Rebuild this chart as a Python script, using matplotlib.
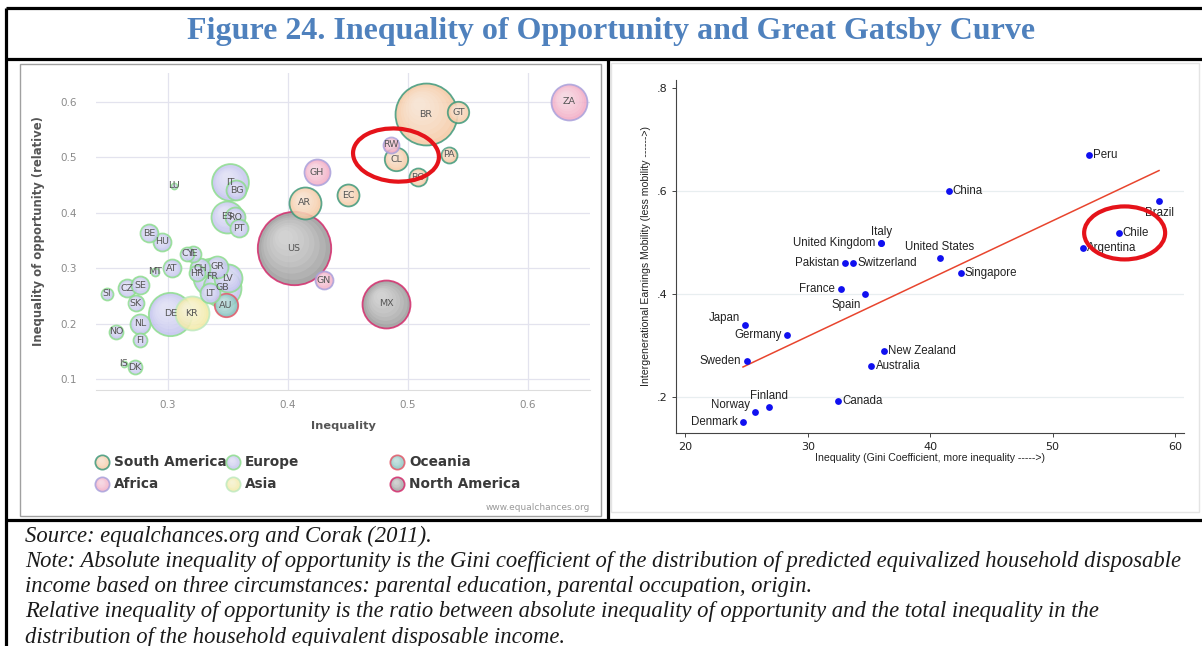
import numpy as np
import matplotlib
matplotlib.use("Agg")
import matplotlib.pyplot as plt
from matplotlib.patches import Rectangle, Ellipse
from matplotlib.lines import Line2D
from matplotlib.transforms import ScaledTranslation
from matplotlib.colors import to_rgb

# ---- left panel: inequality of opportunity (equalchances.org) ----
codes = ["BR", "GT", "PA", "CL", "BO", "EC", "AR", "ZA", "RW", "GH", "GN", "US", "MX",
         "AU", "KR", "IT", "BG", "ES", "RO", "PT", "LU", "BE", "HU", "CY", "IE", "AT",
         "MT", "CH", "GR", "HR", "FR", "LV", "GB", "LT", "SE", "CZ", "SI", "SK", "DE",
         "NL", "NO", "FI", "IS", "DK"]
ineq = [0.515, 0.542, 0.534, 0.490, 0.508, 0.450, 0.414, 0.634, 0.486, 0.424, 0.430,
        0.405, 0.482, 0.348, 0.320, 0.352, 0.357, 0.349, 0.356, 0.359, 0.305, 0.284,
        0.295, 0.316, 0.321, 0.303, 0.289, 0.327, 0.341, 0.324, 0.337, 0.350, 0.345,
        0.335, 0.277, 0.266, 0.249, 0.273, 0.302, 0.277, 0.257, 0.277, 0.263, 0.2725]
iop_rel = [0.578, 0.581, 0.505, 0.497, 0.464, 0.432, 0.418, 0.600, 0.523, 0.473, 0.279,
           0.336, 0.236, 0.234, 0.219, 0.455, 0.441, 0.393, 0.392, 0.372, 0.449, 0.363,
           0.348, 0.326, 0.326, 0.300, 0.294, 0.300, 0.303, 0.291, 0.285, 0.282, 0.265,
           0.255, 0.270, 0.264, 0.254, 0.237, 0.218, 0.200, 0.186, 0.171, 0.128, 0.122]
# relative bubble weight (population-like)
weight = [960, 115, 64, 137, 81, 121, 256, 324, 64, 169, 81, 1350, 576, 137, 289, 340,
          100, 256, 100, 81, 9, 81, 81, 49, 64, 81, 16, 100, 121, 64, 361, 196, 361, 100,
          81, 81, 36, 64, 470, 100, 49, 49, 9, 49]
region = ["SA", "SA", "SA", "SA", "SA", "SA", "SA", "AF", "AF", "AF", "AF", "NA", "NA",
          "OC", "AS"] + ["EU"] * 29

regions = ["SA", "EU", "OC", "AF", "AS", "NA"]
region_names = ["South America", "Europe", "Oceania", "Africa", "Asia", "North America"]

# ---- right panel: Great Gatsby Curve (Corak 2011) ----
countries = ["Peru", "China", "Brazil", "Chile", "Argentina", "Italy", "United Kingdom",
             "United States", "Pakistan", "Switzerland", "Singapore", "France", "Spain",
             "Japan", "Germany", "New Zealand", "Australia", "Sweden", "Canada",
             "Finland", "Norway", "Denmark"]
gini = [53.0, 41.5, 58.7, 55.4, 52.5, 36.0, 36.0, 40.8, 33.0, 33.7, 42.5, 32.7, 34.7,
        24.9, 28.3, 36.2, 35.2, 25.0, 32.5, 26.8, 25.7, 24.7]
iem = [0.670, 0.600, 0.581, 0.519, 0.490, 0.500, 0.500, 0.470, 0.460, 0.460, 0.441,
       0.410, 0.400, 0.341, 0.321, 0.290, 0.261, 0.270, 0.192, 0.181, 0.171, 0.151]

W, H = 1202, 646
fig = plt.figure(figsize=(W / 100, H / 100), dpi=100)

# background axes in pixel units for frame, title, legend and notes
bg = fig.add_axes([0, 0, 1, 1])
bg.set_xlim(0, W)
bg.set_ylim(H, 0)
bg.axis("off")

bg.add_patch(Rectangle((20, 64), 581, 452, facecolor="white", edgecolor="#a0a0a0", lw=1))
bg.add_patch(Rectangle((611, 63), 588, 449, facecolor="white", edgecolor="#e4e4e4", lw=1))

lw_frame = 2.3
for (x0, y0, x1, y1) in [(6, 8, W, 8), (6, 58.5, W, 58.5), (6, 520, W, 520),
                         (6, 8, 6, H), (607.5, 58.5, 607.5, 520)]:
    bg.add_line(Line2D([x0, x1], [y0, y1], color="black", lw=lw_frame, solid_capstyle="butt"))

bg.text(611, 32, "Figure 24. Inequality of Opportunity and Great Gatsby Curve",
        ha="center", va="center", fontsize=23, fontweight="bold",
        family="Liberation Serif", color="#4f81bd")

notes = ["Source: equalchances.org and Corak (2011).",
         "Note: Absolute inequality of opportunity is the Gini coefficient of the distribution of predicted equivalized household disposable",
         "income based on three circumstances: parental education, parental occupation, origin.",
         "Relative inequality of opportunity is the ratio between absolute inequality of opportunity and the total inequality in the",
         "distribution of the household equivalent disposable income."]
for i, line in enumerate(notes):
    bg.text(25, 536 + i * 25.3, line, ha="left", va="center", fontsize=16.3,
            style="italic", family="Liberation Serif", color="#1a1a1a")

fill = {"SA": "#f5c8a2", "EU": "#c2c2ee", "OC": "#80c0bc", "AF": "#f1a9c4",
        "AS": "#f2e9a2", "NA": "#9a9a9a"}
edge = {"SA": "#3f9a7c", "EU": "#8ede8e", "OC": "#e35868", "AF": "#a9a2dc",
        "AS": "#bfeabf", "NA": "#d42c6c"}


def lighter(c, t):
    r = np.array(to_rgb(c))
    return tuple(r + (1 - r) * t)


def bubble(ax, x, y, s, reg, z):
    ax.scatter(x, y, s=s, c=[fill[reg]], edgecolors=edge[reg], linewidths=1.3,
               alpha=0.85, zorder=z)
    r = np.sqrt(s) / 2.0
    # soft highlight toward the upper left
    for f in np.linspace(0.88, 0.2, 7):
        shift = ScaledTranslation(-(1 - f) * r * 0.3 / 72, (1 - f) * r * 0.4 / 72,
                                  fig.dpi_scale_trans)
        ax.scatter(x, y, s=s * f * f, c=[lighter(fill[reg], 0.75)], linewidths=0,
                   alpha=0.16, zorder=z + 0.01, transform=ax.transData + shift)


# legend of left panel
leg_x = [102, 233, 397]
leg_y = [462, 484]
for k, (reg, name) in enumerate(zip(regions, region_names)):
    lx = leg_x[k % 3]
    ly = leg_y[k // 3]
    bubble(bg, lx, ly, 105, reg, 3)
    bg.text(lx + 12, ly, name, ha="left", va="center", fontsize=9.8,
            fontweight="bold", color="#3a3a3a")
bg.text(590, 507, "www.equalchances.org", ha="right", va="center", fontsize=6.5,
        color="#9a9a9a")

# ---- left axes ----
ax1 = fig.add_axes([96 / W, 1 - 390 / H, 494 / W, 317 / H])
ax1.set_facecolor("none")
ax1.set_xlim(0.240, 0.6517)
ax1.set_ylim(0.081, 0.652)
ax1.set_xticks([0.3, 0.4, 0.5, 0.6])
ax1.set_yticks([0.1, 0.2, 0.3, 0.4, 0.5, 0.6])
ax1.grid(True, color="#e3e3ee", lw=0.9)
ax1.set_axisbelow(True)
for sp in ["top", "right", "left"]:
    ax1.spines[sp].set_visible(False)
ax1.spines["bottom"].set_color("#dddddd")
ax1.tick_params(length=0, labelsize=7.5, labelcolor="#8a8a8a")
ax1.tick_params(axis="y", pad=14)
ax1.tick_params(axis="x", pad=7)
ax1.set_xlabel("Inequality", fontsize=8.2, color="#555555", fontweight="bold", labelpad=8)
ax1.set_ylabel("Inequality of opportunity (relative)", fontsize=8.4, color="#555555",
               fontweight="bold", labelpad=11)

order = np.argsort(weight)[::-1]
for z, i in enumerate(order):
    bubble(ax1, ineq[i], iop_rel[i], 2.07 * weight[i], region[i], 2 + z * 0.1)
for i, c in enumerate(codes):
    ax1.text(ineq[i], iop_rel[i], c, ha="center", va="center", fontsize=6.8,
             color="#555555", zorder=20)

# red highlight around Chile (left)
ci = codes.index("CL")
tr = fig.dpi_scale_trans + ScaledTranslation(ineq[ci], iop_rel[ci], ax1.transData)
ax1.add_patch(Ellipse((0.0, 0.04), 0.86, 0.53, angle=-4, transform=tr, fill=False,
                      edgecolor="#e5131a", lw=3.0, zorder=30, clip_on=False))

# ---- right axes ----
ax2 = fig.add_axes([676.2 / W, 1 - 432.7 / H, 507.9 / W, 352.7 / H])
ax2.set_facecolor("none")
ax2.set_xlim(19.24, 60.75)
ax2.set_ylim(0.131, 0.816)
ax2.set_xticks([20, 30, 40, 50, 60])
ax2.set_yticks([0.2, 0.4, 0.6, 0.8])
ax2.set_yticklabels([".2", ".4", ".6", ".8"])
ax2.grid(axis="y", color="#e8eef0", lw=0.9)
ax2.yaxis.get_gridlines()[-1].set_visible(False)
ax2.set_axisbelow(True)
for sp in ["top", "right"]:
    ax2.spines[sp].set_visible(False)
for sp in ["left", "bottom"]:
    ax2.spines[sp].set_color("#444444")
    ax2.spines[sp].set_linewidth(0.8)
ax2.tick_params(direction="out", length=3, width=0.7, color="#444444",
                labelsize=8, labelcolor="#222222")
ax2.set_xlabel("Inequality (Gini Coefficient, more inequality ----->)", fontsize=7.6,
               family="Liberation Sans", color="#222222", labelpad=1)
ax2.set_ylabel("Intergenerational Earnings Mobility (less mobility ------>)", fontsize=7.6,
               family="Liberation Sans", color="#222222", labelpad=4)

b, a = np.polyfit(gini, iem, 1)
xs = np.array([min(gini), max(gini)])
ax2.plot(xs, a + b * xs, color="#e8452e", lw=1.1, zorder=2)
ax2.scatter(gini, iem, s=24, color="#1010f0", zorder=3, linewidths=0)

# label placement (points offset, ha)
place = {"Brazil": (0, -9, "center"), "Italy": (0, 8, "center"),
         "United Kingdom": (-4, 0, "right"), "United States": (0, 8, "center"),
         "Pakistan": (-4, 0, "right"), "France": (-4, 0, "right"),
         "Spain": (-3, -8, "right"), "Japan": (-4, 5, "right"),
         "Germany": (-4, 0, "right"), "Sweden": (-4, 0, "right"),
         "Finland": (0, 8, "center"), "Norway": (-4, 5, "right"),
         "Denmark": (-4, 0, "right"), "Argentina": (3, 0, "left")}
for n, x, y in zip(countries, gini, iem):
    dx, dy, ha = place.get(n, (3, 0, "left"))
    ax2.annotate(n, (x, y), xytext=(dx, dy), textcoords="offset points", ha=ha,
                 va="center", fontsize=8.3, family="Liberation Sans", color="#222222",
                 zorder=4)

ki = countries.index("Chile")
tr2 = fig.dpi_scale_trans + ScaledTranslation(gini[ki], iem[ki], ax2.transData)
ax2.add_patch(Ellipse((0.06, 0.0), 0.81, 0.53, transform=tr2, fill=False,
                      edgecolor="#e5131a", lw=3.0, zorder=5, clip_on=False))

fig.savefig("out.png", dpi=100)
